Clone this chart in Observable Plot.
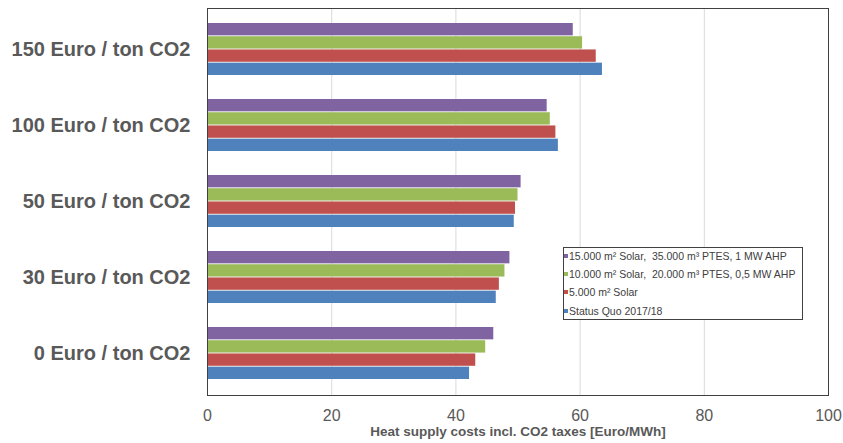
<!DOCTYPE html>
<html>
<head>
<meta charset="utf-8">
<script src="https://cdn.jsdelivr.net/npm/d3@7"></script>
<script src="https://cdn.jsdelivr.net/npm/@observablehq/plot@0.6"></script>
<style>
  html, body { margin: 0; padding: 0; background: #fff; }
  #wrap { position: relative; width: 843px; height: 443px; font-family: "Liberation Sans", Arial, sans-serif; }
  #legend { position: absolute; left: 563px; top: 247px; width: 240px; height: 73px; border: 1px solid #404040; background: #fff; box-sizing: border-box; padding: 0 0 0 0; font-size: 10.5px; color: #404040; }
  #legend .item { height: 18.2px; line-height: 18.2px; white-space: pre; display: flex; align-items: center; }
  #legend .item:first-child { margin-top: -1px; }
  #legend .sw { width: 4px; height: 4px; margin-right: 1px; display: inline-block; flex: none; }
</style>
</head>
<body>
<div id="wrap"></div>
<script>
const categories = ["150 Euro / ton CO2", "100 Euro / ton CO2", "50 Euro / ton CO2", "30 Euro / ton CO2", "0 Euro / ton CO2"];
const seriesNames = [
  "15.000 m² Solar,  35.000 m³ PTES, 1 MW AHP",
  "10.000 m² Solar,  20.000 m³ PTES, 0,5 MW AHP",
  "5.000 m² Solar",
  "Status Quo 2017/18"
];
const seriesColors = ["#8064A2", "#9BBB59", "#C0504D", "#4F81BD"];
// values per category (150, 100, 50, 30, 0)
const solar15000 = [58.9, 54.7, 50.5, 48.7, 46.1];
const solar10000 = [60.4, 55.2, 50.0, 47.9, 44.8];
const solar5000  = [62.6, 56.1, 49.6, 47.0, 43.2];
const statusQuo  = [63.6, 56.5, 49.4, 46.5, 42.2];
const xTicks = [0, 20, 40, 60, 80, 100];

const seriesValues = [solar15000, solar10000, solar5000, statusQuo];

const height = 443, marginTop = 8, marginBottom = 48;
const paddingInner = 0.31, paddingOuter = 0.18;
const rangeH = height - marginTop - marginBottom;
const step = rangeH / (categories.length - paddingInner + 2 * paddingOuter);
const bw = step * (1 - paddingInner);
const sub = bw / seriesNames.length;

const barMarks = seriesNames.map((name, k) => {
  const data = categories.map((c, i) => ({category: c, value: seriesValues[k][i], series: name}));
  return Plot.barX(data, {
    x: "value", y: "category", fill: seriesColors[k],
    insetTop: k * sub, insetBottom: (seriesNames.length - 1 - k) * sub
  });
});

const chart = Plot.plot({
  width: 843, height,
  marginLeft: 207, marginRight: 15, marginTop, marginBottom,
  style: {fontFamily: "'Liberation Sans', Arial, sans-serif", color: "#595959", background: "#fff"},
  x: {domain: [0, 100]},
  y: {domain: categories, paddingInner, paddingOuter},
  marks: [
    Plot.gridX(xTicks, {stroke: "#d9d9d9", strokeOpacity: 1}),
    ...barMarks,
    Plot.frame({stroke: "#404040"}),
    Plot.axisY({tickSize: 0, tickPadding: 17, fontSize: 20, fontWeight: "bold", label: null}),
    Plot.axisX({ticks: xTicks, tickSize: 0, tickPadding: 14, fontSize: 16, label: null}),
    Plot.axisX({ticks: [], label: "Heat supply costs incl. CO2 taxes [Euro/MWh]", labelAnchor: "center", labelArrow: "none", labelOffset: 40, fontSize: 13.5, fontWeight: "bold"})
  ]
});

const wrap = document.getElementById("wrap");
wrap.appendChild(chart);
const legend = document.createElement("div");
legend.id = "legend";
seriesNames.forEach((n, k) => {
  const it = document.createElement("div");
  it.className = "item";
  const sw = document.createElement("span");
  sw.className = "sw";
  sw.style.background = seriesColors[k];
  it.appendChild(sw);
  it.appendChild(document.createTextNode(n));
  legend.appendChild(it);
});
wrap.appendChild(legend);
</script>
</body>
</html>
